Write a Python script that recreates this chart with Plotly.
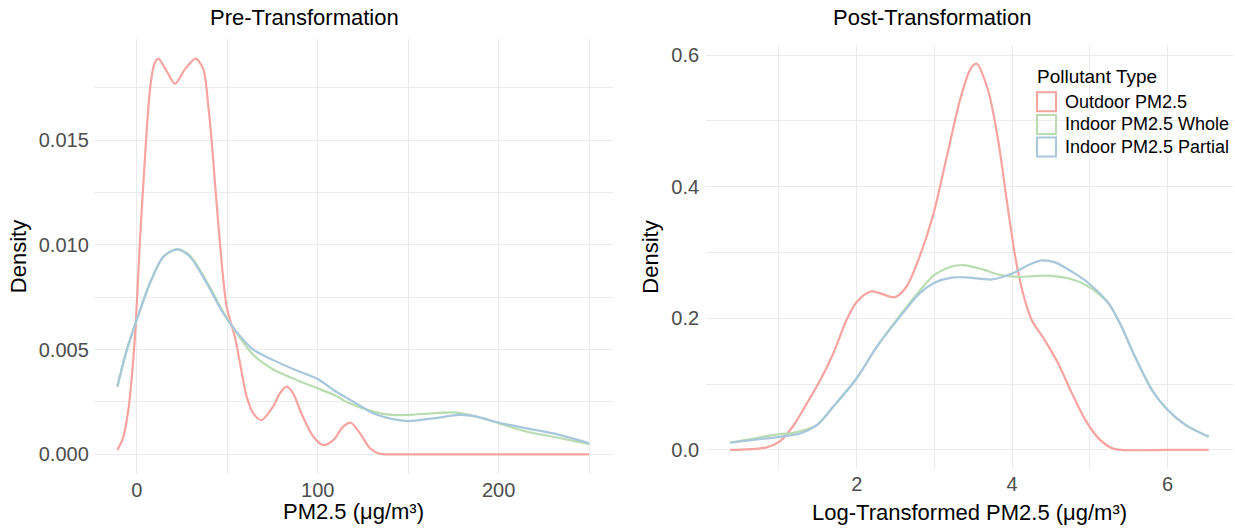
import plotly.graph_objects as go

# ---------------- data ----------------
series_names = ["Outdoor PM2.5", "Indoor PM2.5 Whole", "Indoor PM2.5 Partial"]
series_colors = ["#F7A39F", "#B9DDB0", "#A7C7DC"]

# Pre-transformation densities (PM2.5, density)
pre_outdoor_x = [-10.7, -7.5, -4.5, -2.5, -0.6, 1.8, 4.6, 7.3, 9.6, 11.9, 16.6, 21.2, 26.7, 32.6,
                 36.8, 39.6, 41.4, 45.1, 49.7, 54.3, 57.1, 60.8, 64.4, 69.1, 75.5, 79.0, 82.9, 86.5,
                 90.2, 94.0, 97.6, 103.1, 108.6, 114.1, 118.2, 123.4, 128.9, 134.4, 140.0, 180.0, 220.0, 250.0]
pre_outdoor_y = [0.00021, 0.0008, 0.0022, 0.0039, 0.0061, 0.0102, 0.0142, 0.0174, 0.0186, 0.0189,
                 0.0183, 0.0177, 0.0184, 0.0189, 0.0184, 0.0166, 0.0150, 0.0110, 0.00705, 0.0056,
                 0.00435, 0.00275, 0.00196, 0.00164, 0.0023, 0.0029, 0.00323, 0.0029, 0.00212, 0.0014,
                 0.00084, 0.00044, 0.00068, 0.00132, 0.00151, 0.0010, 0.00029, 0.00002, 0.0, 0.0, 0.0, 0.0]

pre_whole_x = [-10.7, -5.5, 0.0, 7.3, 14.7, 22.4, 29.4, 38.7, 47.8, 55.2, 64.4, 75.5, 88.4, 100.0,
               110.0, 116.0, 130.7, 140.9, 150.0, 163.9, 175.2, 187.8, 200.2, 215.5, 230.2, 250.0]
pre_whole_y = [0.00323, 0.00498, 0.00642, 0.00817, 0.00944, 0.0098, 0.0095, 0.00825, 0.0068, 0.0058,
               0.00475, 0.00405, 0.00355, 0.00315, 0.0028, 0.0025, 0.00204, 0.00188, 0.00188, 0.00196,
               0.0020, 0.0018, 0.00148, 0.00108, 0.00084, 0.00049]

pre_partial_x = [-10.7, -5.5, 0.0, 7.3, 14.7, 22.4, 29.4, 38.7, 47.8, 55.2, 64.4, 75.5, 88.4, 100.0,
                 110.0, 120.0, 130.7, 140.9, 150.0, 163.9, 178.6, 187.8, 200.2, 215.5, 230.2, 250.0]
pre_partial_y = [0.00323, 0.00498, 0.00642, 0.00817, 0.00944, 0.00979, 0.00944, 0.00817, 0.00674,
                 0.00585, 0.0050, 0.0045, 0.0040, 0.0036, 0.0030, 0.0025, 0.00196, 0.00169, 0.00159,
                 0.00172, 0.00188, 0.0018, 0.00151, 0.00124, 0.0010, 0.00053]

# Post-transformation densities (log PM2.5, density)
post_outdoor_x = [0.37, 0.84, 1.01, 1.18, 1.36, 1.53, 1.70, 1.87, 2.0, 2.19, 2.49, 2.64, 2.81, 2.99,
                  3.16, 3.33, 3.46, 3.54, 3.69, 3.82, 3.93, 4.04, 4.14, 4.25, 4.42, 4.59, 4.77, 4.94,
                  5.11, 5.28, 5.41, 6.0, 6.53]
post_outdoor_y = [0.0, 0.004, 0.013, 0.036, 0.071, 0.106, 0.147, 0.198, 0.225, 0.241, 0.232, 0.248,
                  0.294, 0.36, 0.446, 0.532, 0.578, 0.587, 0.547, 0.471, 0.38, 0.294, 0.238, 0.198,
                  0.167, 0.132, 0.086, 0.046, 0.018, 0.003, 0.0, 0.0, 0.0]

post_whole_x = [0.37, 1.0, 1.18, 1.49, 1.70, 2.0, 2.26, 2.56, 2.81, 3.0, 3.2, 3.37, 3.63, 3.84, 4.08,
                4.42, 4.72, 4.99, 5.24, 5.41, 5.58, 5.80, 6.0, 6.23, 6.53]
post_whole_y = [0.011, 0.024, 0.026, 0.038, 0.066, 0.109, 0.157, 0.205, 0.242, 0.266, 0.278, 0.281,
                0.274, 0.266, 0.263, 0.265, 0.261, 0.248, 0.223, 0.187, 0.142, 0.091, 0.061, 0.038, 0.020]

post_partial_x = [0.37, 1.0, 1.27, 1.49, 1.70, 2.0, 2.26, 2.56, 2.81, 3.0, 3.22, 3.44, 3.74, 4.0,
                  4.21, 4.38, 4.55, 4.81, 4.99, 5.24, 5.41, 5.58, 5.80, 6.0, 6.23, 6.53]
post_partial_y = [0.011, 0.020, 0.025, 0.038, 0.066, 0.109, 0.157, 0.203, 0.238, 0.254, 0.262, 0.262,
                  0.259, 0.268, 0.281, 0.288, 0.285, 0.268, 0.253, 0.223, 0.187, 0.142, 0.091, 0.061,
                  0.038, 0.020]

pre_xticks = [0, 100, 200]
pre_xminor = [50, 150, 250]
pre_yticks = [0.0, 0.005, 0.010, 0.015]
pre_yticklabels = ["0.000", "0.005", "0.010", "0.015"]
pre_yminor = [0.0025, 0.0075, 0.0125, 0.0175]

post_xticks = [2, 4, 6]
post_xminor = [1, 3, 5]
post_yticks = [0.0, 0.2, 0.4, 0.6]
post_yticklabels = ["0.0", "0.2", "0.4", "0.6"]
post_yminor = [0.1, 0.3, 0.5]

titles = ["Pre-Transformation", "Post-Transformation"]
x_titles = ["PM2.5 (μg/m³)", "Log-Transformed PM2.5 (μg/m³)"]
y_title = "Density"
legend_title = "Pollutant Type"

# ---------------- figure ----------------
W, H = 1235, 529
FONT = "Liberation Sans, Arial, Helvetica, sans-serif"
GRID = "#EBEBEB"

fig = go.Figure()

pre = [(pre_outdoor_x, pre_outdoor_y), (pre_whole_x, pre_whole_y), (pre_partial_x, pre_partial_y)]
post = [(post_outdoor_x, post_outdoor_y), (post_whole_x, post_whole_y), (post_partial_x, post_partial_y)]

for (xs, ys), name, col in zip(pre, series_names, series_colors):
    fig.add_trace(go.Scatter(x=xs, y=ys, mode="lines", name=name, showlegend=False,
                             line=dict(color=col, width=2.2, shape="spline", smoothing=0.8),
                             xaxis="x", yaxis="y"))
for (xs, ys), name, col in zip(post, series_names, series_colors):
    fig.add_trace(go.Scatter(x=xs, y=ys, mode="lines", name=name, showlegend=False,
                             line=dict(color=col, width=2.2, shape="spline", smoothing=0.8),
                             xaxis="x2", yaxis="y2"))


def px_x(p):
    return p / W


def px_y(p):
    return 1 - p / H


tickfont = dict(family=FONT, size=20, color="#4D4D4D")
titlefont = dict(family=FONT, size=22, color="#000000")

common_axis = dict(showline=False, zeroline=False, ticks="", tickfont=tickfont,
                   showgrid=True, gridcolor=GRID, gridwidth=1.2, fixedrange=True)

x1_dom = [px_x(93.8), px_x(612.7)]
x2_dom = [px_x(706.1), px_x(1232.8)]

fig.update_layout(
    width=W, height=H,
    margin=dict(l=0, r=0, t=0, b=0),
    paper_bgcolor="white", plot_bgcolor="white",
    font=dict(family=FONT, color="#000000"),
    showlegend=False,
    xaxis=dict(domain=x1_dom, range=[-23.7, 263.0], anchor="y",
               tickvals=pre_xticks, ticklabelstandoff=2,
               minor=dict(tickvals=pre_xminor, showgrid=True, gridcolor=GRID, gridwidth=0.8),
               **common_axis),
    yaxis=dict(domain=[px_y(474.1), px_y(38.8)], range=[-0.000945, 0.01985], anchor="x",
               tickvals=pre_yticks, ticktext=pre_yticklabels, ticklabelstandoff=4,
               minor=dict(tickvals=pre_yminor, showgrid=True, gridcolor=GRID, gridwidth=0.8),
               title=dict(text=y_title, font=titlefont, standoff=6),
               **common_axis),
    xaxis2=dict(domain=x2_dom, range=[0.062, 6.84], anchor="y2",
                tickvals=post_xticks, ticklabelstandoff=1,
                minor=dict(tickvals=post_xminor, showgrid=True, gridcolor=GRID, gridwidth=0.8),
                **common_axis),
    yaxis2=dict(domain=[px_y(469.3), px_y(44.6)], range=[-0.0294, 0.616], anchor="x2",
                tickvals=post_yticks, ticktext=post_yticklabels, ticklabelstandoff=6,
                minor=dict(tickvals=post_yminor, showgrid=True, gridcolor=GRID, gridwidth=0.8),
                title=dict(text=y_title, font=titlefont, standoff=6),
                **common_axis),
)

# panel titles
for t, cx in zip(titles, [304, 932]):
    fig.add_annotation(text=t, x=px_x(cx), y=px_y(18), xref="paper", yref="paper",
                       showarrow=False, xanchor="center", yanchor="middle",
                       font=dict(family=FONT, size=22, color="#000000"))

# x-axis titles (centred under each panel)
for t, dom, cy in zip(x_titles, [x1_dom, x2_dom], [511.5, 512.0]):
    fig.add_annotation(text=t, x=(dom[0] + dom[1]) / 2, y=px_y(cy), xref="paper", yref="paper",
                       showarrow=False, xanchor="center", yanchor="middle",
                       font=titlefont)

# legend (ggplot-style outlined keys)
fig.add_annotation(text=legend_title, x=px_x(1035), y=px_y(76), xref="paper", yref="paper",
                   showarrow=False, xanchor="left", yanchor="middle",
                   font=dict(family=FONT, size=19, color="#000000"))
key_centers = [101.7, 124.4, 147.1]
for name, col, cy in zip(series_names, series_colors, key_centers):
    fig.add_shape(type="rect", xref="paper", yref="paper",
                  x0=px_x(1037), x1=px_x(1056), y0=px_y(cy + 9.5), y1=px_y(cy - 9.5),
                  line=dict(color=col, width=2), fillcolor="rgba(255,255,255,0)")
    fig.add_annotation(text=name, x=px_x(1063), y=px_y(cy), xref="paper", yref="paper",
                       showarrow=False, xanchor="left", yanchor="middle",
                       font=dict(family=FONT, size=18, color="#000000"))

# remove the page's default body margin so the figure fills the window exactly
fig.write_html("out.html", config={"displayModeBar": False},
               post_script="document.body.style.margin='0px';")
